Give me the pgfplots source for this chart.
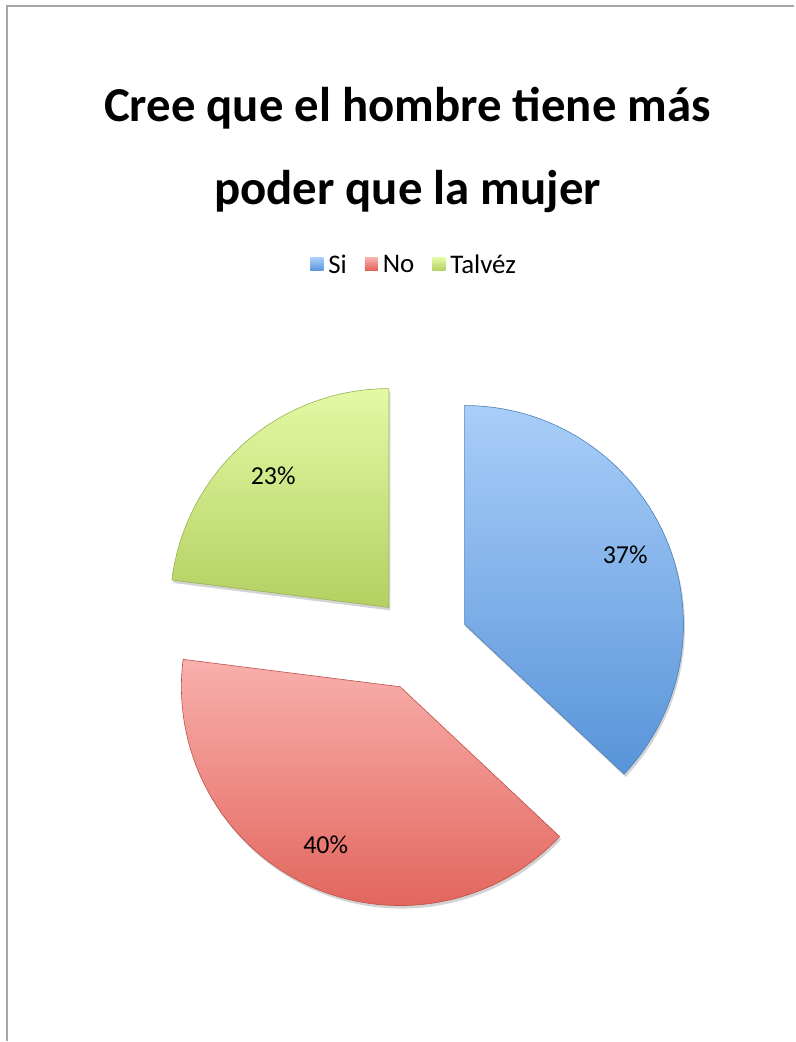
\documentclass[border=0pt]{standalone}
\usepackage{fontspec}
\setmainfont{Carlito}
\usepackage{pgfplots}
\usepackage{pgfplotstable}
\pgfplotsset{compat=1.18}
\usetikzlibrary{shadows,fadings}

% slice colours (top / bottom of the gradient)
\definecolor{pieTop0}{HTML}{A9CEF9}
\definecolor{pieBot0}{HTML}{5894D9}
\definecolor{pieTop1}{HTML}{F9B0AD}
\definecolor{pieBot1}{HTML}{E05F56}
\definecolor{pieTop2}{HTML}{E4F9A4}
\definecolor{pieBot2}{HTML}{B3D062}
\definecolor{frameGray}{HTML}{A6A6A6}

\pgfplotstableread{
label value
Si 37
No 40
Talvez 23
}\piedata

\begin{document}
\begin{tikzpicture}
% pie geometry (axis units = bp): centre, explode distance, radius
\def\cx{421}\def\cy{398}\def\dex{48}\def\rad{219}
\def\cum{0}
\pgfplotsforeachungrouped \i in {0,1,2}{%
  \pgfplotstablegetelem{\i}{value}\of\piedata
  \let\v\pgfplotsretval
  \pgfmathsetmacro\sA{90-3.6*\cum}
  \pgfmathsetmacro\eA{\sA-3.6*\v}
  \pgfmathsetmacro\mA{(\sA+\eA)/2}
  \pgfmathsetmacro\tx{\cx+\dex*cos(\mA)}
  \pgfmathsetmacro\ty{\cy+\dex*sin(\mA)}
  \pgfmathsetmacro\lx{\tx+0.8*\rad*cos(\mA)}
  \pgfmathsetmacro\ly{\ty+0.8*\rad*sin(\mA)}
  \expandafter\xdef\csname pieS\i\endcsname{\sA}
  \expandafter\xdef\csname pieE\i\endcsname{\eA}
  \expandafter\xdef\csname pieX\i\endcsname{\tx}
  \expandafter\xdef\csname pieY\i\endcsname{\ty}
  \expandafter\xdef\csname pieLX\i\endcsname{\lx}
  \expandafter\xdef\csname pieLY\i\endcsname{\ly}
  \expandafter\xdef\csname pieV\i\endcsname{\v}
  \pgfmathsetmacro\cum{\cum+\v}
}
\begin{axis}[
  x=1bp, y=1bp, scale only axis,
  xmin=0, xmax=795, ymin=0, ymax=1042,
  hide axis, clip=false,
  legend style={at={(axis cs:414,777)}, anchor=center, draw=none, fill=none,
    legend columns=3, font=\fontsize{27}{30}\selectfont,
    nodes={inner sep=1bp},
    /tikz/every even column/.append style={column sep=17bp},
    legend cell align=left},
]
\path (axis cs:0,0) rectangle (axis cs:795,1042);
\draw[frameGray, line width=2bp] (axis cs:7,0) -- (axis cs:7,1036) -- (axis cs:795,1036);

\node[font=\fontsize{49}{58}\bfseries\selectfont, anchor=base] at (axis cs:408,920) {Cree que el hombre tiene más};
\node[font=\fontsize{49}{58}\bfseries\selectfont, anchor=base] at (axis cs:408,837) {poder que la mujer};

\pgfplotsinvokeforeach{0,1,2}{
  \shade[top color=pieTop#1, bottom color=pieBot#1, draw=pieBot#1!85!black, line width=0.6bp,
         drop shadow={opacity=0.35, shadow xshift=1.5bp, shadow yshift=-3bp}]
    (axis cs:\csname pieX#1\endcsname,\csname pieY#1\endcsname)
    -- ++(\csname pieS#1\endcsname:\rad bp)
    arc[start angle=\csname pieS#1\endcsname, end angle=\csname pieE#1\endcsname, radius=\rad bp]
    -- cycle;
  \node[font=\fontsize{26}{29}\selectfont] at (axis cs:\csname pieLX#1\endcsname,\csname pieLY#1\endcsname)
    {\csname pieV#1\endcsname\%};
}

\addlegendimage{legend image code/.code={\path[draw=none,fill=none] (0bp,-6bp) rectangle (17bp,7bp);
  \shade[draw=none, top color=pieTop0, bottom color=pieBot0] (0bp,-6bp) rectangle (13bp,7bp);}}
\addlegendentry{Si}
\addlegendimage{legend image code/.code={\path[draw=none,fill=none] (0bp,-6bp) rectangle (17bp,7bp);
  \shade[draw=none, top color=pieTop1, bottom color=pieBot1] (0bp,-6bp) rectangle (13bp,7bp);}}
\addlegendentry{No}
\addlegendimage{legend image code/.code={\path[draw=none,fill=none] (0bp,-6bp) rectangle (17bp,7bp);
  \shade[draw=none, top color=pieTop2, bottom color=pieBot2] (0bp,-6bp) rectangle (13bp,7bp);}}
\addlegendentry{Talvéz}
\end{axis}
\end{tikzpicture}
\end{document}
